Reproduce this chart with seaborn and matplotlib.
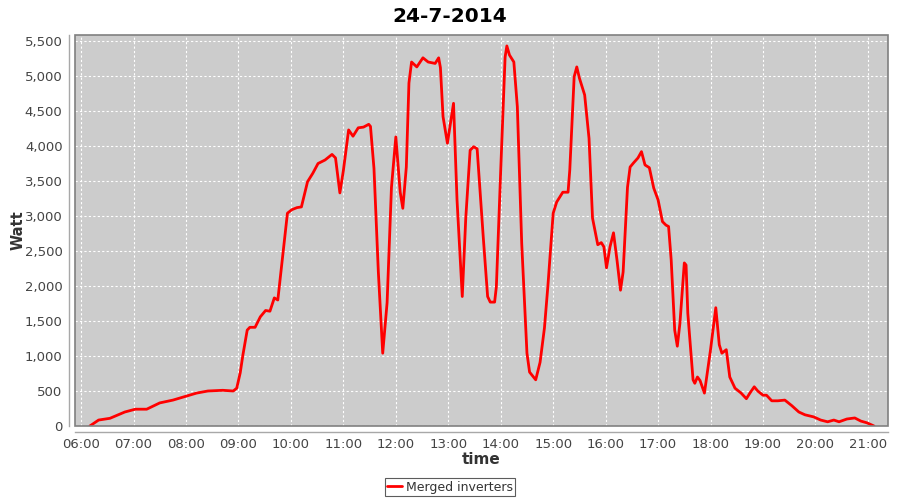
import matplotlib
matplotlib.use("Agg")
import matplotlib.pyplot as plt
import matplotlib.dates as mdates
from matplotlib.ticker import FuncFormatter, MultipleLocator
from matplotlib.patches import Rectangle
import seaborn as sns
import pandas as pd

times = ["06:10", "06:20", "06:33", "06:50", "07:02", "07:15", "07:30", "07:45", "07:57",
         "08:12", "08:25", "08:42", "08:54", "08:58", "09:02", "09:05", "09:10", "09:13",
         "09:19", "09:25", "09:31", "09:36", "09:41", "09:45", "09:50", "09:56", "10:01",
         "10:07", "10:12", "10:19", "10:25", "10:31", "10:39", "10:47", "10:51", "10:56",
         "11:00", "11:06", "11:11", "11:17", "11:23", "11:29", "11:31", "11:35", "11:40",
         "11:45", "11:50", "11:55", "12:00", "12:05", "12:08", "12:12", "12:15", "12:18",
         "12:24", "12:31", "12:37", "12:45", "12:49", "12:51", "12:54", "12:59", "13:06",
         "13:10", "13:16", "13:20", "13:25", "13:29", "13:33", "13:40", "13:45", "13:48",
         "13:53", "13:55", "14:00", "14:05", "14:07", "14:10", "14:15", "14:19", "14:24",
         "14:30", "14:33", "14:40", "14:45", "14:50", "14:54", "15:00", "15:04", "15:11",
         "15:17", "15:19", "15:24", "15:27", "15:30", "15:36", "15:41", "15:45", "15:51",
         "15:55", "15:58", "16:01", "16:05", "16:09", "16:13", "16:17", "16:20", "16:25",
         "16:28", "16:32", "16:37", "16:41", "16:45", "16:50", "16:55", "17:00", "17:05",
         "17:09", "17:12", "17:15", "17:19", "17:22", "17:25", "17:30", "17:32", "17:34",
         "17:40", "17:42", "17:45", "17:48", "17:53", "18:00", "18:06", "18:10", "18:13",
         "18:18", "18:22", "18:28", "18:35", "18:41", "18:45", "18:50", "18:54", "19:00",
         "19:04", "19:10", "19:17", "19:25", "19:33", "19:41", "19:48", "19:58", "20:06",
         "20:14", "20:21", "20:27", "20:36", "20:45", "20:52", "20:59", "21:07"]
watts = [0, 85, 110, 200, 240, 240, 330, 370, 415,
         470, 500, 510, 500, 540, 760, 1010, 1370, 1410,
         1410, 1560, 1650, 1640, 1830, 1800, 2370, 3040, 3090,
         3120, 3130, 3490, 3610, 3750, 3800, 3880, 3830, 3330,
         3650, 4230, 4140, 4260, 4270, 4310, 4280, 3680, 2200,
         1040, 1760, 3410, 4130, 3340, 3110, 3700, 4900, 5200,
         5130, 5260, 5200, 5180, 5260, 5120, 4420, 4040, 4610,
         3230, 1850, 2970, 3940, 3990, 3960, 2700, 1850, 1770,
         1770, 1990, 3660, 5270, 5430, 5300, 5200, 4560, 2610,
         1040, 770, 660, 910, 1400, 2010, 3040, 3200, 3340,
         3340, 3660, 4990, 5130, 4970, 4730, 4110, 2970, 2590,
         2620, 2560, 2260, 2560, 2760, 2370, 1940, 2200, 3410,
         3700, 3760, 3830, 3920, 3730, 3690, 3400, 3230, 2920,
         2870, 2850, 2370, 1370, 1140, 1470, 2330, 2300, 1610,
         660, 610, 700, 650, 470, 1090, 1690, 1160, 1040,
         1090, 700, 540, 470, 390, 470, 560, 500, 440,
         440, 360, 360, 370, 290, 200, 160, 130, 85,
         60, 85, 60, 100, 115, 70, 45, 0]

series_name = "Merged inverters"
title = "24-7-2014"

df = pd.DataFrame({
    "time": pd.to_datetime(["2014-07-24 " + t for t in times]),
    "Watt": watts,
    "series": series_name,
})

sns.set_style("white")
plt.rcParams["font.family"] = ["DejaVu Sans"]

fig = plt.figure(figsize=(9, 5), dpi=100)
ax = fig.add_axes([75 / 900, 1 - 426 / 500, (888 - 75) / 900, (426 - 35) / 500])
ax.set_facecolor("#cccccc")

sns.lineplot(data=df, x="time", y="Watt", hue="series", palette=["#ff0000"],
             linewidth=2, ax=ax, legend=True)

ax.set_xlim(pd.Timestamp("2014-07-24 05:53"), pd.Timestamp("2014-07-24 21:23"))
ax.set_ylim(0, 5586)
ax.yaxis.set_major_locator(MultipleLocator(500))
ax.yaxis.set_major_formatter(FuncFormatter(lambda v, p: f"{int(v):,}"))
ax.xaxis.set_major_locator(mdates.HourLocator())
ax.xaxis.set_major_formatter(mdates.DateFormatter("%H:%M"))

ax.grid(True, color="white", linestyle=(0, (2, 2)), linewidth=0.8)
ax.set_axisbelow(True)

for s in ["top", "right"]:
    ax.spines[s].set_visible(False)
for s in ["left", "bottom"]:
    ax.spines[s].set_position(("outward", 4))
    ax.spines[s].set_color("#a8a8a8")
    ax.spines[s].set_linewidth(1)
ax.add_patch(Rectangle((0, 0), 1, 1, transform=ax.transAxes, fill=False,
                       edgecolor="#808080", linewidth=1.2, zorder=5, clip_on=False))

ax.tick_params(axis="both", which="major", direction="out", length=3, width=0.8,
               color="#a8a8a8", labelsize=9.5, labelcolor="#444444", pad=2)

ax.set_xlabel("time", fontsize=11, fontweight="bold", color="#333333")
ax.set_ylabel("Watt", fontsize=10.5, fontweight="bold", color="#333333")
ax.xaxis.set_label_coords(0.5, (426 - 459) / 391, transform=ax.transAxes)
ax.yaxis.set_label_coords((18 - 75) / 813, 0.5, transform=ax.transAxes)
ax.xaxis.label.set_va("center")
ax.yaxis.label.set_va("center")
fig.suptitle(title, x=0.5, y=0.985, fontsize=14.5, fontweight="bold", color="black")

handles, labels = ax.get_legend_handles_labels()
ax.get_legend().remove()
leg = fig.legend(handles, labels, loc="center", bbox_to_anchor=(0.5, 1 - 487 / 500),
                 frameon=True, fancybox=False, fontsize=9, handlelength=1.2,
                 handletextpad=0.3, borderpad=0.2, borderaxespad=0, edgecolor="#333333")
leg.get_frame().set_linewidth(0.8)
for t in leg.get_texts():
    t.set_color("#333333")

fig.savefig("out.png", dpi=100, facecolor="white")
